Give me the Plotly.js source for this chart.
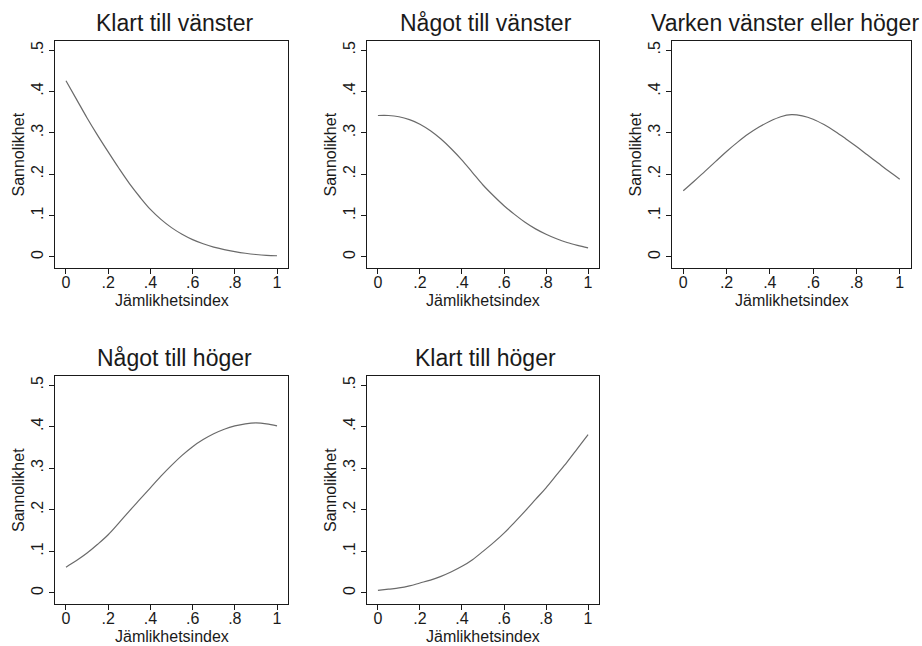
<!DOCTYPE html>
<html>
<head>
<meta charset="utf-8">
<script src="https://cdn.plot.ly/plotly-3.0.1.min.js"></script>
<style>html,body{margin:0;padding:0;background:#fff;}#chart{width:922px;height:646px;}</style>
</head>
<body>
<div id="chart"></div>
<script>
// Jämlikhetsindex (x) values
const index = [0, 0.05, 0.1, 0.15, 0.2, 0.25, 0.3, 0.35, 0.4, 0.45, 0.5, 0.55, 0.6, 0.65, 0.7, 0.75, 0.8, 0.85, 0.9, 0.95, 1];

// Probabilities
const klartVanster = [0.426, 0.381, 0.336, 0.294, 0.254, 0.215, 0.178, 0.145, 0.115, 0.091, 0.071, 0.055, 0.042, 0.032, 0.024, 0.018, 0.013, 0.009, 0.006, 0.004, 0.003];
const nagotVanster = [0.342, 0.342, 0.339, 0.332, 0.321, 0.305, 0.285, 0.261, 0.234, 0.204, 0.174, 0.148, 0.124, 0.103, 0.084, 0.068, 0.055, 0.044, 0.035, 0.028, 0.022];
const varken       = [0.160, 0.183, 0.207, 0.231, 0.255, 0.277, 0.297, 0.314, 0.328, 0.339, 0.344, 0.341, 0.333, 0.320, 0.304, 0.286, 0.267, 0.247, 0.227, 0.207, 0.188];
const nagotHoger   = [0.062, 0.078, 0.096, 0.117, 0.140, 0.168, 0.197, 0.225, 0.253, 0.281, 0.307, 0.331, 0.352, 0.369, 0.383, 0.394, 0.402, 0.407, 0.409, 0.407, 0.402];
const klartHoger   = [0.006, 0.009, 0.012, 0.017, 0.024, 0.031, 0.040, 0.051, 0.064, 0.080, 0.100, 0.121, 0.144, 0.170, 0.197, 0.225, 0.253, 0.284, 0.315, 0.348, 0.381];

const panelTitles = ['Klart till vänster', 'Något till vänster', 'Varken vänster eller höger', 'Något till höger', 'Klart till höger'];
const series = [klartVanster, nagotVanster, varken, nagotHoger, klartHoger];

const xTickVals = [0, 0.2, 0.4, 0.6, 0.8, 1];
const xTickText = ['0', '.2', '.4', '.6', '.8', '1'];
const yTickVals = [0, 0.1, 0.2, 0.3, 0.4, 0.5];
const yTickText = ['0', '.1', '.2', '.3', '.4', '.5'];
const xTitle = 'Jämlikhetsindex';
const yTitle = 'Sannolikhet';

const W = 922, H = 646;
// panel boxes in pixels [left, right, top, bottom]
const boxes = [
  [55, 288, 41, 268],
  [367, 599, 41, 268],
  [672, 911, 41, 268],
  [55, 288, 376, 604],
  [367, 599, 376, 604]
];

const FONT = 'Liberation Sans, Arial, sans-serif';
const INK = '#1a1a1a';
const traces = [];
const layout = {
  width: W, height: H,
  margin: {l: 0, r: 0, t: 0, b: 0},
  paper_bgcolor: '#fff', plot_bgcolor: '#fff',
  showlegend: false,
  font: {family: FONT, color: INK},
  annotations: []
};

series.forEach((ys, i) => {
  const n = i === 0 ? '' : String(i + 1);
  const b = boxes[i];
  traces.push({
    x: index, y: ys, type: 'scatter', mode: 'lines',
    line: {color: '#6a6a6a', width: 1.2, shape: 'spline', smoothing: 1},
    xaxis: 'x' + n, yaxis: 'y' + n, hoverinfo: 'skip'
  });
  layout['xaxis' + n] = {
    domain: [b[0] / W, b[1] / W],
    anchor: 'y' + n,
    range: [-0.052, 1.052],
    tickvals: xTickVals, ticktext: xTickText,
    ticks: 'outside', ticklen: 5, tickwidth: 1, tickcolor: INK,
    ticklabelstandoff: -5,
    showline: true, mirror: true, linecolor: INK, linewidth: 1,
    showgrid: false, zeroline: false,
    tickfont: {size: 16, family: FONT, color: INK}
  };
  layout['yaxis' + n] = {
    domain: [1 - b[3] / H, 1 - b[2] / H],
    anchor: 'x' + n,
    range: [-0.0266, 0.522],
    tickvals: yTickVals, ticktext: yTickText,
    tickangle: -90,
    ticks: 'outside', ticklen: 5, tickwidth: 1, tickcolor: INK,
    showline: true, mirror: true, linecolor: INK, linewidth: 1,
    showgrid: false, zeroline: false,
    tickfont: {size: 16, family: FONT, color: INK}
  };
  // panel title (the long third title is kept inside the page, as in the reference)
  const longTitle = i === 2;
  layout.annotations.push({
    text: panelTitles[i], xref: 'paper', yref: 'paper',
    x: longTitle ? 921 / W : ((b[0] + b[1]) / 2 + 3) / W, y: 1 - (b[2] - 18) / H,
    xanchor: longTitle ? 'right' : 'center', yanchor: 'middle', showarrow: false,
    font: {size: 23, family: FONT, color: INK}
  });
  // x-axis title
  layout.annotations.push({
    text: xTitle, xref: 'paper', yref: 'paper',
    x: (b[0] + b[1]) / 2 / W, y: 1 - (b[3] + 32) / H,
    xanchor: 'center', yanchor: 'middle', showarrow: false,
    font: {size: 16, family: FONT, color: INK}
  });
  // y-axis title
  layout.annotations.push({
    text: yTitle, xref: 'paper', yref: 'paper', textangle: -90,
    x: (b[0] - 37) / W, y: 1 - (b[2] + b[3]) / 2 / H,
    xanchor: 'center', yanchor: 'middle', showarrow: false,
    font: {size: 16, family: FONT, color: INK}
  });
});

Plotly.newPlot('chart', traces, layout, {staticPlot: true, displayModeBar: false});
</script>
</body>
</html>
